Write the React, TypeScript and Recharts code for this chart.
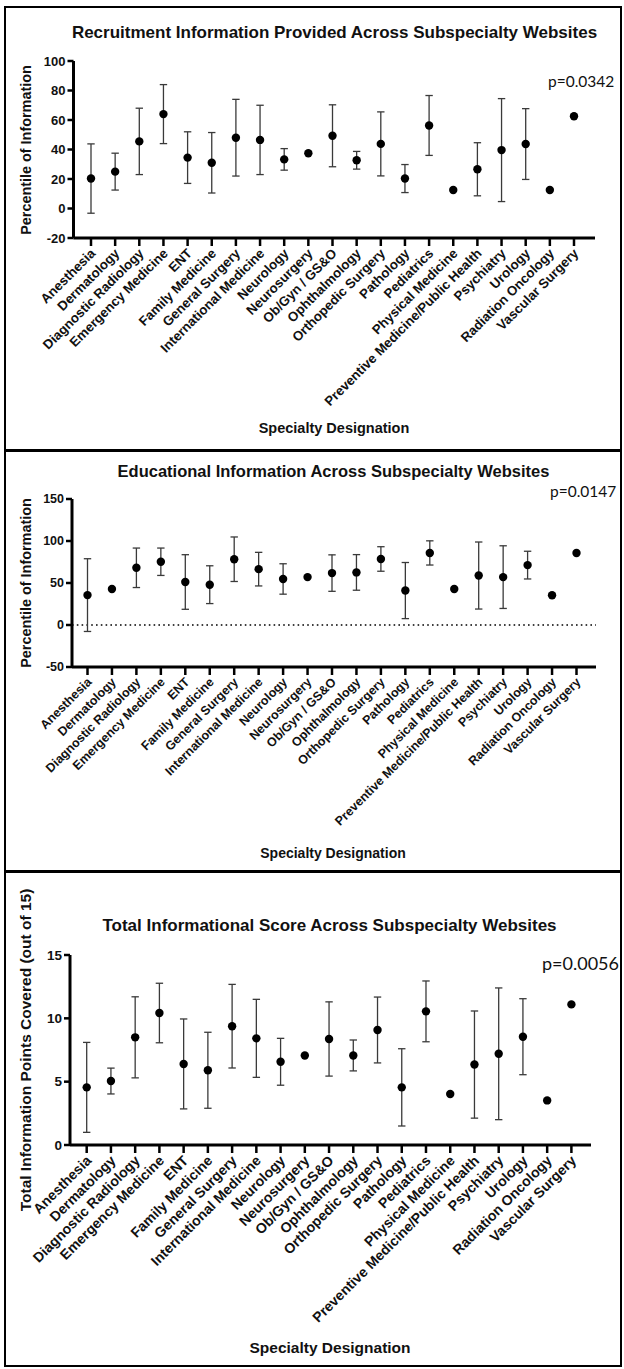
import React from 'react';
import { ScatterChart, Scatter, XAxis, YAxis, ErrorBar, ReferenceLine } from 'recharts';

const categories = [
  'Anesthesia', 'Dermatology', 'Diagnostic Radiology', 'Emergency Medicine', 'ENT',
  'Family Medicine', 'General Surgery', 'International Medicine', 'Neurology', 'Neurosurgery',
  'Ob/Gyn / GS&O', 'Ophthalmology', 'Orthopedic Surgery', 'Pathology', 'Pediatrics',
  'Physical Medicine', 'Preventive Medicine/Public Health', 'Psychiatry', 'Urology',
  'Radiation Oncology', 'Vascular Surgery',
];

const recruitMean = [20.3, 25, 45.5, 64, 34.5, 31, 48, 46.5, 33.3, 37.5, 49.3, 32.7, 43.8, 20.3, 56.3, 12.5, 26.6, 39.6, 43.7, 12.5, 62.5];
const recruitSd = [23.5, 12.5, 22.5, 20, 17.5, 20.5, 26, 23.5, 7.3, 0, 21, 6, 21.7, 9.5, 20.3, 0, 18, 34.9, 24, 0, 0];

const eduMean = [35.6, 42.8, 68.1, 75.3, 51.2, 48, 78.3, 66.5, 54.8, 57, 61.8, 62.6, 78.6, 41, 85.8, 42.9, 58.9, 57, 71.3, 35.4, 85.8];
const eduSd = [43.3, 0, 23.5, 16.3, 32.5, 22.5, 26.5, 20, 18.1, 0, 21.7, 21.2, 14.6, 33.4, 14.4, 0, 39.9, 37.3, 16.5, 0, 0];

const totalMean = [4.55, 5.05, 8.5, 10.42, 6.4, 5.9, 9.38, 8.42, 6.57, 7.07, 8.37, 7.07, 9.08, 4.55, 10.55, 4.03, 6.35, 7.2, 8.55, 3.52, 11.1];
const totalSd = [3.55, 1.02, 3.2, 2.35, 3.55, 3.0, 3.3, 3.08, 1.85, 0, 2.93, 1.22, 2.6, 3.05, 2.4, 0, 4.23, 5.2, 3.0, 0, 0];

const recruitTicks = [-20, 0, 20, 40, 60, 80, 100];
const eduTicks = [-50, 0, 50, 100, 150];
const totalTicks = [0, 5, 10, 15];

const FONT = "'Liberation Sans', Arial, Helvetica, sans-serif";
const PFONT = "Lato, 'Liberation Sans', sans-serif";

type PanelCfg = {
  top: number;
  height: number;
  axisLeft: number;
  axisRight: number;
  axisTop: number;
  axisBottom: number;
  firstX: number;
  lastX: number;
  yDomain: [number, number];
  yTicks: number[];
  means: number[];
  sds: number[];
  title: string;
  titleX: number;
  titleY: number;
  titleSize: number;
  pText: string;
  pX: number;
  pY: number;
  pSize: number;
  yLabel: string;
  yLabelSize: number;
  xLabelY: number;
  xLabelX: number;
  xLabelSize: number;
  tickSize: number;
  catSize: number;
  zeroLine?: boolean;
};

const panels: PanelCfg[] = [
  {
    top: 0, height: 450, axisLeft: 73.5, axisRight: 595, axisTop: 61, axisBottom: 238,
    firstX: 91, lastX: 574, yDomain: [-20, 100], yTicks: recruitTicks,
    means: recruitMean, sds: recruitSd,
    title: 'Recruitment Information Provided Across Subspecialty Websites', titleX: 334.5, titleY: 32, titleSize: 17,
    pText: 'p=0.0342', pX: 548, pY: 82, pSize: 15.5,
    yLabel: 'Percentile of Information', yLabelSize: 14.4,
    xLabelX: 334, xLabelY: 428, xLabelSize: 14.5, tickSize: 13, catSize: 13.3,
  },
  {
    top: 450, height: 421, axisLeft: 72, axisRight: 596, axisTop: 499, axisBottom: 667,
    firstX: 87.5, lastX: 576.5, yDomain: [-50, 150], yTicks: eduTicks,
    means: eduMean, sds: eduSd,
    title: 'Educational Information Across Subspecialty Websites', titleX: 333.5, titleY: 471, titleSize: 16.5,
    pText: 'p=0.0147', pX: 550, pY: 492, pSize: 15.5,
    yLabel: 'Percentile of Information', yLabelSize: 14.4,
    xLabelX: 333, xLabelY: 853, xLabelSize: 14, tickSize: 12.5, catSize: 12.5, zeroLine: true,
  },
  {
    top: 871, height: 498, axisLeft: 70, axisRight: 591, axisTop: 955, axisBottom: 1145,
    firstX: 86.7, lastX: 571.4, yDomain: [0, 15], yTicks: totalTicks,
    means: totalMean, sds: totalSd,
    title: 'Total Informational Score Across Subspecialty Websites', titleX: 329.5, titleY: 925, titleSize: 17,
    pText: 'p=0.0056', pX: 542, pY: 963, pSize: 18,
    yLabel: 'Total Information Points Covered (out of 15)', yLabelSize: 15.5,
    xLabelX: 330, xLabelY: 1348, xLabelSize: 15.5, tickSize: 13.5, catSize: 14.1,
  },
];

const catIndex = categories.map((_, i) => i);

const Dot = (props: any) => {
  const { cx, cy } = props;
  if (cx == null || cy == null) return null;
  return <circle cx={cx} cy={cy} r={4.2} fill="#000" />;
};

const CatTick = (props: any) => {
  const { x, y, payload, fs } = props;
  const label = categories[payload.value];
  if (label == null) return null;
  const ax = x + 2;
  const ay = y + 3;
  return (
    <text
      x={ax}
      y={ay}
      transform={`rotate(-45 ${ax} ${ay})`}
      textAnchor="end"
      dominantBaseline="central"
      fontSize={fs}
      fontWeight="bold"
      fontFamily={FONT}
      fill="#111"
    >
      {label}
    </text>
  );
};

const abs = (left: number, top: number, extra: React.CSSProperties = {}): React.CSSProperties => ({
  position: 'absolute',
  left,
  top,
  whiteSpace: 'nowrap',
  lineHeight: 1,
  ...extra,
});

function Panel({ cfg }: { cfg: PanelCfg }) {
  const data = catIndex.map((i) => ({ idx: i, name: categories[i], mean: cfg.means[i], sd: cfg.sds[i] }));
  const spacing = (cfg.lastX - cfg.firstX) / (categories.length - 1);
  const d0 = -(cfg.firstX - cfg.axisLeft) / spacing;
  const d1 = categories.length - 1 + (cfg.axisRight - cfg.lastX) / spacing;
  const YW = 60;
  const XH = 30;
  const plotTop = cfg.axisTop - cfg.top;
  const plotBottom = cfg.axisBottom - cfg.top;
  const margin = {
    top: plotTop,
    right: 624 - cfg.axisRight,
    left: cfg.axisLeft - YW,
    bottom: cfg.height - plotBottom - XH,
  };
  const yMid = (cfg.axisTop + cfg.axisBottom) / 2;
  return (
    <>
      <div style={{ position: 'absolute', left: 0, top: cfg.top }}>
        <ScatterChart width={624} height={cfg.height} margin={margin}>
          <XAxis
            type="number"
            dataKey="idx"
            domain={[d0, d1]}
            ticks={catIndex}
            interval={0}
            allowDataOverflow
            tickSize={8}
            axisLine={{ stroke: '#000', strokeWidth: 3 }}
            tickLine={{ stroke: '#000', strokeWidth: 2.5 }}
            height={XH}
            tick={(p: any) => <CatTick {...p} fs={cfg.catSize} />}
          />
          <YAxis
            type="number"
            dataKey="mean"
            domain={cfg.yDomain}
            ticks={cfg.yTicks}
            interval={0}
            allowDataOverflow
            width={YW}
            tickSize={6}
            tickMargin={2}
            axisLine={{ stroke: '#000', strokeWidth: 3 }}
            tickLine={{ stroke: '#000', strokeWidth: 2.5 }}
            tick={{ fill: '#111', fontSize: cfg.tickSize, fontWeight: 'bold', fontFamily: FONT }}
          />
          {cfg.zeroLine && (
            <ReferenceLine y={0} stroke="#000" strokeWidth={1.6} strokeDasharray="1.6 3.2" />
          )}
          <Scatter data={data} shape={<Dot />} isAnimationActive={false}>
            <ErrorBar dataKey="sd" direction="y" width={3.7} stroke="#3a3a3a" strokeWidth={1.3} />
          </Scatter>
        </ScatterChart>
      </div>
      <div
        style={abs(cfg.titleX, cfg.titleY, {
          transform: 'translate(-50%, -50%)',
          fontFamily: FONT,
          fontWeight: 'bold',
          fontSize: cfg.titleSize,
          color: '#111',
        })}
      >
        {cfg.title}
      </div>
      <div
        style={abs(cfg.pX, cfg.pY, {
          transform: 'translate(0, -50%)',
          fontFamily: PFONT,
          fontSize: cfg.pSize,
          color: '#111',
        })}
      >
        {cfg.pText}
      </div>
      <div
        style={abs(26, yMid, {
          transform: 'translate(-50%, -50%) rotate(-90deg)',
          fontFamily: FONT,
          fontWeight: 'bold',
          fontSize: cfg.yLabelSize,
          color: '#111',
        })}
      >
        {cfg.yLabel}
      </div>
      <div
        style={abs(cfg.xLabelX, cfg.xLabelY, {
          transform: 'translate(-50%, -50%)',
          fontFamily: FONT,
          fontWeight: 'bold',
          fontSize: cfg.xLabelSize,
          color: '#111',
        })}
      >
        Specialty Designation
      </div>
    </>
  );
}

export default function App() {
  return (
    <div
      style={{
        position: 'absolute',
        left: 0,
        top: 0,
        width: 624,
        height: 1369,
        background: '#fff',
        overflow: 'hidden',
      }}
    >
      <div
        style={{
          position: 'absolute',
          left: 4,
          top: 6,
          width: 618,
          height: 1361,
          border: '2px solid #000',
          boxSizing: 'border-box',
        }}
      />
      <div style={{ position: 'absolute', left: 4, top: 449, width: 618, height: 3, background: '#000' }} />
      <div style={{ position: 'absolute', left: 4, top: 870, width: 618, height: 3, background: '#000' }} />
      {panels.map((cfg, i) => (
        <Panel key={i} cfg={cfg} />
      ))}
    </div>
  );
}
